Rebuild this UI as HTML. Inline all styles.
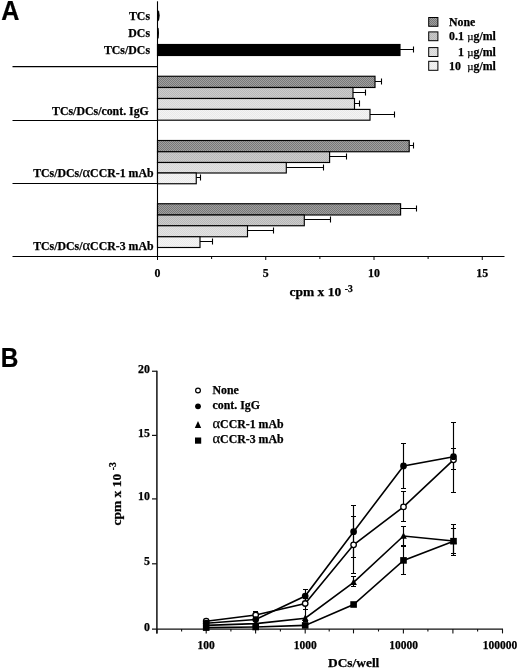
<!DOCTYPE html><html><head><meta charset="utf-8"><title>Figure</title><style>html,body{margin:0;padding:0;background:#fff}svg{display:block}text{stroke:#000;stroke-width:0.25px;font-family:"Liberation Serif",serif;font-weight:bold;fill:#000}.s{font-family:"Liberation Sans",sans-serif;font-weight:bold}.n{font-weight:normal}</style></head><body>
<svg width="520" height="669" viewBox="0 0 520 669">
<rect width="520" height="669" fill="#fff"/>
<defs>
<pattern id="p1" width="2" height="2" patternUnits="userSpaceOnUse"><rect width="2" height="2" fill="#a0a0a0"/><rect width="1" height="1" fill="#787878"/><rect x="1" y="1" width="1" height="1" fill="#787878"/></pattern>
<pattern id="p2" width="2" height="2" patternUnits="userSpaceOnUse"><rect width="2" height="2" fill="#cccccc"/><rect width="1" height="1" fill="#b8b8b8"/><rect x="1" y="1" width="1" height="1" fill="#b8b8b8"/></pattern>
<pattern id="p3" width="2" height="2" patternUnits="userSpaceOnUse"><rect width="2" height="2" fill="#e3e3e3"/><rect width="1" height="1" fill="#d6d6d6"/><rect x="1" y="1" width="1" height="1" fill="#d6d6d6"/></pattern>
<pattern id="p4" width="2" height="2" patternUnits="userSpaceOnUse"><rect width="2" height="2" fill="#f4f4f4"/><rect width="1" height="1" fill="#eaeaea"/><rect x="1" y="1" width="1" height="1" fill="#eaeaea"/></pattern>
</defs>
<text class="s" transform="translate(1.3 20.1) scale(0.93 1)" font-size="27" stroke="#000" stroke-width="1">A</text>
<line x1="12.5" y1="66.7" x2="157.5" y2="66.7" stroke="#000" stroke-width="1.2"/>
<line x1="12.5" y1="120.5" x2="157.5" y2="120.5" stroke="#000" stroke-width="1.2"/>
<line x1="12.5" y1="183.5" x2="157.5" y2="183.5" stroke="#000" stroke-width="1.2"/>
<line x1="12.5" y1="256.5" x2="504.5" y2="256.5" stroke="#000" stroke-width="1.1"/>
<line x1="157.5" y1="1.3" x2="157.5" y2="256.5" stroke="#000" stroke-width="1.1"/>
<line x1="157.50" y1="256.5" x2="157.50" y2="260.0" stroke="#000" stroke-width="1"/>
<line x1="211.62" y1="256.5" x2="211.62" y2="259.0" stroke="#000" stroke-width="1"/>
<line x1="265.75" y1="256.5" x2="265.75" y2="260.0" stroke="#000" stroke-width="1"/>
<line x1="319.88" y1="256.5" x2="319.88" y2="259.0" stroke="#000" stroke-width="1"/>
<line x1="374.00" y1="256.5" x2="374.00" y2="260.0" stroke="#000" stroke-width="1"/>
<line x1="428.12" y1="256.5" x2="428.12" y2="259.0" stroke="#000" stroke-width="1"/>
<line x1="482.25" y1="256.5" x2="482.25" y2="260.0" stroke="#000" stroke-width="1"/>
<text x="157.50" y="276.7" font-size="11.85" text-anchor="middle">0</text>
<text x="265.75" y="276.7" font-size="11.85" text-anchor="middle">5</text>
<text x="374.00" y="276.7" font-size="11.85" text-anchor="middle">10</text>
<text x="482.25" y="276.7" font-size="11.85" text-anchor="middle">15</text>
<text x="289.5" y="296.2" font-size="13.5">cpm x 10<tspan font-size="9.6" dx="3.6" dy="-4.6">-3</tspan></text>
<path d="M157.5 9.6L159.1 11.5L159.7 15.5L159.1 20L157.5 22Z" fill="#000"/>
<path d="M157.5 27L158.7 28.5L159.0 33L158.7 38L157.5 39.6Z" fill="#000"/>
<rect x="157.5" y="44.5" width="242.50" height="11.00" fill="#000" stroke="#000" stroke-width="1.15"/>
<path d="M400.00 49.50H413.50M413.50 46.50V52.50" stroke="#000" stroke-width="1.1" fill="none"/>
<rect x="157.5" y="76.25" width="217.50" height="11.25" fill="url(#p1)" stroke="#000" stroke-width="1.15"/>
<path d="M375.00 81.50H381.50M381.50 78.50V84.50" stroke="#000" stroke-width="1.1" fill="none"/>
<rect x="157.5" y="87.5" width="195.50" height="11.00" fill="url(#p2)" stroke="#000" stroke-width="1.15"/>
<path d="M353.00 92.50H365.50M365.50 89.50V95.50" stroke="#000" stroke-width="1.1" fill="none"/>
<rect x="157.5" y="98.5" width="197.00" height="10.90" fill="url(#p3)" stroke="#000" stroke-width="1.15"/>
<path d="M354.50 103.50H359.50M359.50 100.50V106.50" stroke="#000" stroke-width="1.1" fill="none"/>
<rect x="157.5" y="109.4" width="212.50" height="10.80" fill="url(#p4)" stroke="#000" stroke-width="1.15"/>
<path d="M370.00 114.50H394.50M394.50 111.50V117.50" stroke="#000" stroke-width="1.1" fill="none"/>
<rect x="157.5" y="140.5" width="251.70" height="11.25" fill="url(#p1)" stroke="#000" stroke-width="1.15"/>
<path d="M409.20 145.50H413.50M413.50 142.50V148.50" stroke="#000" stroke-width="1.1" fill="none"/>
<rect x="157.5" y="151.75" width="172.10" height="10.75" fill="url(#p2)" stroke="#000" stroke-width="1.15"/>
<path d="M329.60 156.50H346.50M346.50 153.50V159.50" stroke="#000" stroke-width="1.1" fill="none"/>
<rect x="157.5" y="162.5" width="128.80" height="10.50" fill="url(#p3)" stroke="#000" stroke-width="1.15"/>
<path d="M286.30 167.50H323.50M323.50 164.50V170.50" stroke="#000" stroke-width="1.1" fill="none"/>
<rect x="157.5" y="173" width="38.75" height="10.75" fill="url(#p4)" stroke="#000" stroke-width="1.15"/>
<path d="M196.25 177.50H200.50M200.50 174.50V180.50" stroke="#000" stroke-width="1.1" fill="none"/>
<rect x="157.5" y="203.75" width="243.10" height="11.25" fill="url(#p1)" stroke="#000" stroke-width="1.15"/>
<path d="M400.60 208.50H416.50M416.50 205.50V211.50" stroke="#000" stroke-width="1.1" fill="none"/>
<rect x="157.5" y="215" width="146.80" height="10.75" fill="url(#p2)" stroke="#000" stroke-width="1.15"/>
<path d="M304.30 219.50H330.50M330.50 216.50V222.50" stroke="#000" stroke-width="1.1" fill="none"/>
<rect x="157.5" y="225.75" width="90.00" height="11.00" fill="url(#p3)" stroke="#000" stroke-width="1.15"/>
<path d="M247.50 230.50H273.50M273.50 227.50V233.50" stroke="#000" stroke-width="1.1" fill="none"/>
<rect x="157.5" y="236.75" width="42.50" height="10.75" fill="url(#p4)" stroke="#000" stroke-width="1.15"/>
<path d="M200.00 241.50H212.50M212.50 238.50V244.50" stroke="#000" stroke-width="1.1" fill="none"/>
<text x="150" y="19.6" font-size="11.85" text-anchor="end">TCs</text>
<text x="150" y="37" font-size="11.85" text-anchor="end">DCs</text>
<text x="150" y="54.3" font-size="11.85" text-anchor="end">TCs/DCs</text>
<text x="148.8" y="115.2" font-size="11.85" text-anchor="end">TCs/DCs/cont. IgG</text>
<text x="153.6" y="177" font-size="11.85" text-anchor="end">TCs/DCs/<tspan class="n" font-size="14.5">α</tspan>CCR-1 mAb</text>
<text x="153.6" y="250" font-size="11.85" text-anchor="end">TCs/DCs/<tspan class="n" font-size="14.5">α</tspan>CCR-3 mAb</text>
<rect x="428.7" y="17.5" width="9.2" height="8.80" fill="url(#p1)" stroke="#000" stroke-width="1"/>
<rect x="428.7" y="31.9" width="9.2" height="8.80" fill="url(#p2)" stroke="#000" stroke-width="1"/>
<rect x="428.7" y="47.6" width="9.2" height="8.90" fill="url(#p3)" stroke="#000" stroke-width="1"/>
<rect x="428.7" y="61.3" width="9.2" height="9.00" fill="url(#p4)" stroke="#000" stroke-width="1"/>
<text x="449" y="25.8" font-size="11.85" text-anchor="start">None</text>
<text x="449" y="40.3" font-size="11.85" text-anchor="start">0.1</text>
<text x="467.3" y="40.3" font-size="11.85" text-anchor="start"><tspan class="n" font-size="10.8">µ</tspan>g/ml</text>
<text x="458" y="56" font-size="11.85" text-anchor="start">1</text>
<text x="467.3" y="56" font-size="11.85" text-anchor="start"><tspan class="n" font-size="10.8">µ</tspan>g/ml</text>
<text x="449" y="69.5" font-size="11.85" text-anchor="start">10</text>
<text x="467.3" y="69.5" font-size="11.85" text-anchor="start"><tspan class="n" font-size="10.8">µ</tspan>g/ml</text>
<text class="s" transform="translate(0.8 367.2) scale(0.91 1)" font-size="26.8" stroke="#000" stroke-width="1">B</text>
<line x1="156.9" y1="370.7" x2="156.9" y2="633.4" stroke="#111" stroke-width="1.5"/>
<line x1="152" y1="629.1" x2="503" y2="629.1" stroke="#111" stroke-width="1.3"/>
<line x1="152" y1="563.80" x2="156.9" y2="563.80" stroke="#111" stroke-width="1.2"/>
<line x1="152" y1="498.90" x2="156.9" y2="498.90" stroke="#111" stroke-width="1.2"/>
<line x1="152" y1="435.40" x2="156.9" y2="435.40" stroke="#111" stroke-width="1.2"/>
<line x1="152" y1="371.25" x2="156.9" y2="371.25" stroke="#111" stroke-width="1.2"/>
<text x="149.9" y="630.50" font-size="11.85" text-anchor="end">0</text>
<text x="149.9" y="565.20" font-size="11.85" text-anchor="end">5</text>
<text x="149.9" y="500.30" font-size="11.85" text-anchor="end">10</text>
<text x="149.9" y="436.80" font-size="11.85" text-anchor="end">15</text>
<text x="149.9" y="372.65" font-size="11.85" text-anchor="end">20</text>
<line x1="156.90" y1="629.1" x2="156.90" y2="633.4" stroke="#111" stroke-width="1.1"/>
<line x1="181.60" y1="629.1" x2="181.60" y2="631.5" stroke="#111" stroke-width="1.1"/>
<line x1="206.20" y1="629.1" x2="206.20" y2="633.4" stroke="#111" stroke-width="1.1"/>
<line x1="230.90" y1="629.1" x2="230.90" y2="631.5" stroke="#111" stroke-width="1.1"/>
<line x1="255.60" y1="629.1" x2="255.60" y2="633.4" stroke="#111" stroke-width="1.1"/>
<line x1="280.40" y1="629.1" x2="280.40" y2="631.5" stroke="#111" stroke-width="1.1"/>
<line x1="305.20" y1="629.1" x2="305.20" y2="633.4" stroke="#111" stroke-width="1.1"/>
<line x1="329.20" y1="629.1" x2="329.20" y2="631.5" stroke="#111" stroke-width="1.1"/>
<line x1="353.50" y1="629.1" x2="353.50" y2="633.4" stroke="#111" stroke-width="1.1"/>
<line x1="378.50" y1="629.1" x2="378.50" y2="631.5" stroke="#111" stroke-width="1.1"/>
<line x1="403.40" y1="629.1" x2="403.40" y2="633.4" stroke="#111" stroke-width="1.1"/>
<line x1="427.90" y1="629.1" x2="427.90" y2="631.5" stroke="#111" stroke-width="1.1"/>
<line x1="452.90" y1="629.1" x2="452.90" y2="633.4" stroke="#111" stroke-width="1.1"/>
<line x1="477.60" y1="629.1" x2="477.60" y2="631.5" stroke="#111" stroke-width="1.1"/>
<line x1="502.50" y1="629.1" x2="502.50" y2="633.4" stroke="#111" stroke-width="1.1"/>
<text x="206.20" y="648.9" font-size="11.5" text-anchor="middle">100</text>
<text x="305.20" y="648.9" font-size="11.5" text-anchor="middle">1000</text>
<text x="403.50" y="648.9" font-size="11.5" text-anchor="middle">10000</text>
<text x="500.00" y="648.9" font-size="11.5" text-anchor="middle">100000</text>
<text x="328" y="667" font-size="13.4">DCs/well</text>
<text transform="translate(120.5 525.6) rotate(-90)" font-size="13.5">cpm x 10<tspan font-size="9.6" dx="3.6" dy="-4.6">-3</tspan></text>
<path d="M206.50 619.5V623.5M204.00 619.5H209.00M204.00 623.5H209.00" stroke="#000" stroke-width="1.15" fill="none"/>
<path d="M255.50 611.5V618.5M253.00 611.5H258.00M253.00 618.5H258.00" stroke="#000" stroke-width="1.15" fill="none"/>
<path d="M305.50 598.5V609.5M303.00 598.5H308.00M303.00 609.5H308.00" stroke="#000" stroke-width="1.15" fill="none"/>
<path d="M353.50 516.5V573.5M351.00 516.5H356.00M351.00 573.5H356.00" stroke="#000" stroke-width="1.15" fill="none"/>
<path d="M403.50 491.5V521.5M401.00 491.5H406.00M401.00 521.5H406.00" stroke="#000" stroke-width="1.15" fill="none"/>
<path d="M453.50 448.5V469.5M451.00 448.5H456.00M451.00 469.5H456.00" stroke="#000" stroke-width="1.15" fill="none"/>
<path d="M305.50 589.5V602.5M303.00 589.5H308.00M303.00 602.5H308.00" stroke="#000" stroke-width="1.15" fill="none"/>
<path d="M353.50 505.5V557.5M351.00 505.5H356.00M351.00 557.5H356.00" stroke="#000" stroke-width="1.15" fill="none"/>
<path d="M403.50 443.5V488.5M401.00 443.5H406.00M401.00 488.5H406.00" stroke="#000" stroke-width="1.15" fill="none"/>
<path d="M453.50 422.5V492.5M451.00 422.5H456.00M451.00 492.5H456.00" stroke="#000" stroke-width="1.15" fill="none"/>
<path d="M305.50 609.5V621.5M303.00 609.5H308.00M303.00 621.5H308.00" stroke="#000" stroke-width="1.15" fill="none"/>
<path d="M353.50 576.5V586.5M351.00 576.5H356.00M351.00 586.5H356.00" stroke="#000" stroke-width="1.15" fill="none"/>
<path d="M403.50 526.5V545.5M401.00 526.5H406.00M401.00 545.5H406.00" stroke="#000" stroke-width="1.15" fill="none"/>
<path d="M453.50 528.5V553.5M451.00 528.5H456.00M451.00 553.5H456.00" stroke="#000" stroke-width="1.15" fill="none"/>
<path d="M403.50 546.5V574.5M401.00 546.5H406.00M401.00 574.5H406.00" stroke="#000" stroke-width="1.15" fill="none"/>
<path d="M453.50 524.5V555.5M451.00 524.5H456.00M451.00 555.5H456.00" stroke="#000" stroke-width="1.15" fill="none"/>
<polyline points="206.20,621.2 255.70,615 305.20,603.5 353.60,544.8 403.50,506.9 453.50,459.8" fill="none" stroke="#000" stroke-width="1.6"/>
<polyline points="206.20,623.2 255.70,619.5 305.20,596 353.60,531.7 403.50,465.9 453.50,456.7" fill="none" stroke="#000" stroke-width="1.6"/>
<polyline points="206.20,625.4 255.70,623.6 305.20,618.2 353.60,582.3 403.50,536 453.50,541" fill="none" stroke="#000" stroke-width="1.6"/>
<polyline points="206.20,627.6 255.70,627 305.20,625.4 353.60,604.5 403.50,560.4 453.50,541.2" fill="none" stroke="#000" stroke-width="1.6"/>
<rect x="202.90" y="624.30" width="6.6" height="6.6" fill="#000"/>
<rect x="252.40" y="623.70" width="6.6" height="6.6" fill="#000"/>
<rect x="301.90" y="622.10" width="6.6" height="6.6" fill="#000"/>
<rect x="350.30" y="601.20" width="6.6" height="6.6" fill="#000"/>
<rect x="400.20" y="557.10" width="6.6" height="6.6" fill="#000"/>
<rect x="450.20" y="537.90" width="6.6" height="6.6" fill="#000"/>
<path d="M206.20 621.60L209.50 628.20H202.90Z" fill="#000"/>
<path d="M255.70 619.80L259.00 626.40H252.40Z" fill="#000"/>
<path d="M305.20 614.40L308.50 621.00H301.90Z" fill="#000"/>
<path d="M353.60 578.50L356.90 585.10H350.30Z" fill="#000"/>
<path d="M403.50 532.20L406.80 538.80H400.20Z" fill="#000"/>
<path d="M453.50 537.20L456.80 543.80H450.20Z" fill="#000"/>
<circle cx="206.20" cy="621.2" r="2.75" fill="#fff" stroke="#000" stroke-width="1.3"/>
<circle cx="255.70" cy="615" r="2.75" fill="#fff" stroke="#000" stroke-width="1.3"/>
<circle cx="305.20" cy="603.5" r="2.75" fill="#fff" stroke="#000" stroke-width="1.3"/>
<circle cx="353.60" cy="544.8" r="2.75" fill="#fff" stroke="#000" stroke-width="1.3"/>
<circle cx="403.50" cy="506.9" r="2.75" fill="#fff" stroke="#000" stroke-width="1.3"/>
<circle cx="453.50" cy="459.8" r="2.75" fill="#fff" stroke="#000" stroke-width="1.3"/>
<circle cx="206.20" cy="623.2" r="3.35" fill="#000"/>
<circle cx="255.70" cy="619.5" r="3.35" fill="#000"/>
<circle cx="305.20" cy="596" r="3.35" fill="#000"/>
<circle cx="353.60" cy="531.7" r="3.35" fill="#000"/>
<circle cx="403.50" cy="465.9" r="3.35" fill="#000"/>
<circle cx="453.50" cy="456.7" r="3.35" fill="#000"/>
<circle cx="198" cy="390.5" r="2.4" fill="#fff" stroke="#000" stroke-width="1.2"/>
<circle cx="198" cy="406.3" r="2.9" fill="#000"/>
<path d="M198 421L201.2 428H194.8Z" fill="#000"/>
<rect x="195" y="437.5" width="6.2" height="6.2" fill="#000"/>
<text x="212.5" y="394.2" font-size="11.85" text-anchor="start">None</text>
<text x="212.5" y="409.3" font-size="11.85" text-anchor="start">cont. IgG</text>
<text x="212.5" y="427.5" font-size="11.85" text-anchor="start"><tspan class="n" font-size="14.5">α</tspan>CCR-1 mAb</text>
<text x="212.5" y="443.3" font-size="11.85" text-anchor="start"><tspan class="n" font-size="14.5">α</tspan>CCR-3 mAb</text>
</svg></body></html>
